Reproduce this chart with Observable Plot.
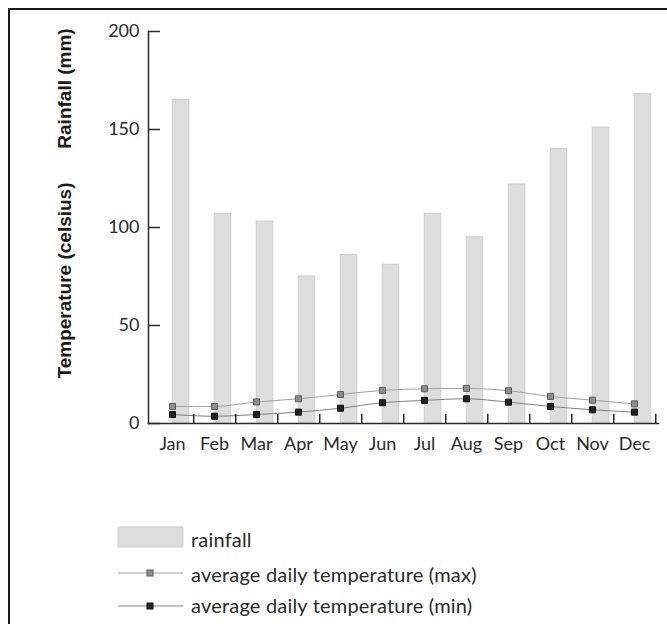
<!DOCTYPE html>
<html><head><meta charset="utf-8">
<script src="https://cdn.jsdelivr.net/npm/d3@7"></script>
<script src="https://cdn.jsdelivr.net/npm/@observablehq/plot@0.6"></script>
<style>
html,body{margin:0;padding:0;background:#fff;overflow:hidden;width:667px;height:624px;}
#frame{position:absolute;left:8px;top:8px;width:700px;height:700px;border-top:2px solid #1a1a1a;border-left:2px solid #1a1a1a;}
#chart{position:absolute;left:0;top:0;}
#legend{position:absolute;left:0;top:515px;}
</style></head><body>
<div id="frame"></div><div id="chart"></div><div id="legend"></div>
<script>
const months = ["Jan","Feb","Mar","Apr","May","Jun","Jul","Aug","Sep","Oct","Nov","Dec"];
const rainfall = [165, 107, 103, 75, 86, 81, 107, 95, 122, 140, 151, 168];
const tempMax = [8.7, 8.7, 11, 12.6, 14.8, 16.9, 17.7, 17.9, 16.7, 13.8, 11.9, 10];
const tempMin = [4.6, 3.7, 4.6, 5.8, 7.8, 10.6, 11.8, 12.6, 10.9, 8.7, 7, 5.8];
const yTicks = [0, 50, 100, 150, 200];
const yTitles = ["Rainfall (mm)", "Temperature (celsius)"];
const legendLabels = ["rainfall", "average daily temperature (max)", "average daily temperature (min)"];

const rows = months.map((m, i) => ({month: m, rain: rainfall[i], tmax: tempMax[i], tmin: tempMin[i]}));
const W = 667, H = 470, ML = 148, MR = 9, MT = 31, MB = 47;
const bw = (W - ML - MR) / months.length;
const barW = 17;
const axisColor = "#2a2a2a";
const titleStyle = {frameAnchor: "top-left", rotate: -90, textAnchor: "middle", lineAnchor: "middle",
  fontFamily: "'Liberation Sans', Arial, sans-serif", fontWeight: "bold", fontSize: 19, fill: "#1a1a1a"};

const chart = Plot.plot({
  width: W, height: H, marginLeft: ML, marginRight: MR, marginTop: MT, marginBottom: MB,
  style: {fontFamily: "Lato, 'Open Sans', sans-serif", fontSize: "18px", color: axisColor, background: "transparent", overflow: "visible"},
  x: {type: "band", domain: months, padding: 0, label: null},
  y: {domain: [0, 200], label: null},
  marks: [
    Plot.barY(rows, {x: "month", y: "rain", fill: "#dddddd", stroke: "#cecece", strokeWidth: 1,
      insetLeft: bw / 2, insetRight: bw - bw / 2 - barW}),
    Plot.line(rows, {x: "month", y: "tmax", curve: "monotone-x", stroke: "#a0a0a0", strokeWidth: 1}),
    Plot.line(rows, {x: "month", y: "tmin", curve: "monotone-x", stroke: "#808080", strokeWidth: 1}),
    Plot.dot(rows, {x: "month", y: "tmax", symbol: "square", r: 3.4, fill: "#8e8e8e", stroke: "#5c5c5c", strokeWidth: 1}),
    Plot.dot(rows, {x: "month", y: "tmin", symbol: "square", r: 3.4, fill: "#222222", stroke: "#111111", strokeWidth: 1}),
    Plot.frame({anchor: "left", stroke: axisColor, strokeWidth: 1.5}),
    Plot.frame({anchor: "bottom", stroke: axisColor, strokeWidth: 1.5}),
    Plot.axisY({ticks: yTicks, tickSize: -12, tickPadding: 21, stroke: axisColor, strokeWidth: 1.5, label: null}),
    Plot.axisX({tickSize: -9, tickFormat: () => "", dx: bw / 2, stroke: axisColor, strokeWidth: 1.5, label: null}),
    Plot.axisX({tickSize: 0, tickPadding: 14, label: null}),
    Plot.text([yTitles[0]], {...titleStyle, dx: -84, dy: 57}),
    Plot.text([yTitles[1]], {...titleStyle, dx: -84, dy: 249})
  ]
});
document.getElementById("chart").appendChild(chart);

// legend
const lg = d3.select("#legend").append("svg").attr("width", W).attr("height", 109)
  .style("font-family", "Lato, 'Open Sans', sans-serif").style("font-size", "20px").style("letter-spacing", "0.2px");
lg.append("rect").attr("x", 118).attr("y", 12).attr("width", 65).attr("height", 20)
  .attr("fill", "#dddddd").attr("stroke", "#cecece");
lg.append("text").attr("x", 191).attr("y", 32).attr("fill", "#2a2a2a").text(legendLabels[0]);
const lineSpecs = [
  {y: 58, fill: "#8e8e8e", stroke: "#5c5c5c", line: "#a0a0a0", ty: 67},
  {y: 91, fill: "#222222", stroke: "#111111", line: "#808080", ty: 98}
];
lineSpecs.forEach((s, i) => {
  lg.append("line").attr("x1", 118).attr("x2", 183).attr("y1", s.y).attr("y2", s.y).attr("stroke", s.line);
  lg.append("rect").attr("x", 147).attr("y", s.y - 3).attr("width", 6).attr("height", 6)
    .attr("fill", s.fill).attr("stroke", s.stroke);
  lg.append("text").attr("x", 191).attr("y", s.ty).attr("fill", "#2a2a2a").text(legendLabels[i + 1]);
});
</script>
</body></html>
